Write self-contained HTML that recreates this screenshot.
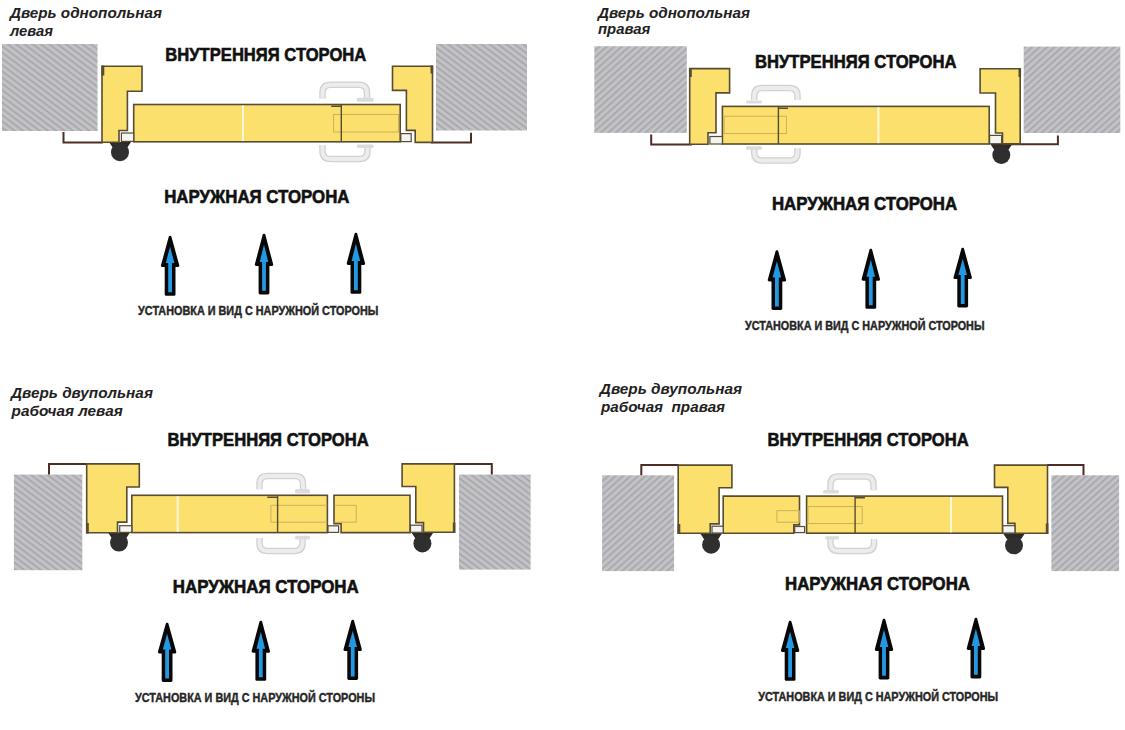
<!DOCTYPE html>
<html><head><meta charset="utf-8">
<style>
html,body{margin:0;padding:0;background:#fff;width:1125px;height:730px;overflow:hidden}
svg{display:block}
text{font-family:"Liberation Sans",sans-serif;font-weight:bold;white-space:pre}
.h{fill:#111;stroke:#111;stroke-width:0.6}
.c{fill:#262626;stroke:#262626;stroke-width:0.4}
.t{fill:#222;font-style:italic}
</style></head><body>
<svg width="1125" height="730" viewBox="0 0 1125 730">
<defs>
<pattern id="hA" width="5" height="5" patternUnits="userSpaceOnUse" patternTransform="rotate(37)">
<rect width="5" height="5" fill="#bbbbbf"/><rect y="0" width="5" height="1.1" fill="#a3a3a7"/><rect y="2.6" width="5" height="1.2" fill="#c9c9cc"/>
</pattern>
<pattern id="hB" width="5" height="5" patternUnits="userSpaceOnUse" patternTransform="rotate(-42)">
<rect width="5" height="5" fill="#bbbbbf"/><rect y="0" width="5" height="1.1" fill="#a3a3a7"/><rect y="2.6" width="5" height="1.2" fill="#c9c9cc"/>
</pattern>
</defs>
<rect x="2" y="44" width="95.50" height="87.00" fill="url(#hA)"/>
<rect x="436" y="44" width="91.00" height="86.50" fill="url(#hA)"/>
<path d="M63.5,132 V142.4 H103" fill="none" stroke="#4e2e24" stroke-width="2.0"/>
<path d="M431,142.4 H471 V132.8" fill="none" stroke="#4e2e24" stroke-width="2.0"/>
<path d="M109,142 L131,142 L127,148 L113,148 Z" fill="#2e2a26"/><circle cx="120" cy="152.2" r="9" fill="#2f2f2f"/>
<path d="M322.5,98.5 V92.8 Q322.5,84.8 330.5,84.8 H359 Q367,84.8 367,92.8 V98.5" fill="none" stroke="#d2d2d2" stroke-width="6.5"/><path d="M322.5,98.5 V92.8 Q322.5,84.8 330.5,84.8 H359 Q367,84.8 367,92.8 V98.5" fill="none" stroke="#ececec" stroke-width="3.9"/>
<rect x="356.8" y="97.8" width="16.80" height="4.00" rx="1.5" fill="#dcdcdc"/>
<path d="M322.5,145 V151 Q322.5,159 330.5,159 H359.5 Q367.5,159 367.5,151 V145" fill="none" stroke="#d2d2d2" stroke-width="6.5"/><path d="M322.5,145 V151 Q322.5,159 330.5,159 H359.5 Q367.5,159 367.5,151 V145" fill="none" stroke="#ececec" stroke-width="3.9"/>
<rect x="356.8" y="144.4" width="16.80" height="3.60" rx="1.5" fill="#dcdcdc"/>
<polygon points="102,66.2 142,66.2 142,91.2 127.4,91.2 127.4,130.5 119,130.5 119,142.2 102,142.2" fill="#fce06e" stroke="#574c31" stroke-width="1.6" stroke-linejoin="miter"/>
<rect x="133.7" y="104.5" width="266.50" height="37.30" fill="#fce06e" stroke="#574c31" stroke-width="1.6"/>
<rect x="242" y="105.4" width="2" height="35.50" fill="#fff8dc"/>
<rect x="333.6" y="114.4" width="64.80" height="17.60" fill="none" stroke="#c7ab5a" stroke-width="0.9"/>
<path d="M341.3,104.5 V141.8 M331.2,106.3 H341.3" fill="none" stroke="#574c31" stroke-width="1.4"/>
<rect x="121.4" y="133" width="12.30" height="8.40" fill="#f4f4f2" stroke="#574c31" stroke-width="1.2"/>
<polygon points="432.5,66.2 392.5,66.2 392.5,90.4 406.4,90.4 406.4,130.4 415.2,130.4 415.2,142.4 432.5,142.4" fill="#fce06e" stroke="#574c31" stroke-width="1.6" stroke-linejoin="miter"/>
<rect x="400.8" y="133.6" width="10.40" height="8.00" fill="#f4f4f2" stroke="#574c31" stroke-width="1.2"/>
<text x="165.3" y="61.2" class="h" font-size="18" textLength="201.0" lengthAdjust="spacingAndGlyphs">ВНУТРЕННЯЯ СТОРОНА</text>
<text x="164.2" y="203.1" class="h" font-size="17.5" textLength="185.3" lengthAdjust="spacingAndGlyphs">НАРУЖНАЯ СТОРОНА</text>
<path d="M170.1,237.20000000000002 L177.89999999999998,265.6 L174.1,265.6 L174.1,294.40000000000003 L166.1,294.40000000000003 L166.1,265.6 L162.3,265.6 Z" fill="#070707" stroke="#070707" stroke-width="2.8" stroke-linejoin="round"/><path d="M170.1,246.8 L174.4,263.0 L172.0,263.0 L172.0,292.2 L168.2,292.2 L168.2,263.0 L165.79999999999998,263.0 Z" fill="#2499e3"/><path d="M264,235.20000000000002 L271.8,264.6 L268.0,264.6 L268.0,293.0 L260.0,293.0 L260.0,264.6 L256.2,264.6 Z" fill="#070707" stroke="#070707" stroke-width="2.8" stroke-linejoin="round"/><path d="M264,244.8 L268.3,262.0 L265.9,262.0 L265.9,290.79999999999995 L262.1,290.79999999999995 L262.1,262.0 L259.7,262.0 Z" fill="#2499e3"/><path d="M355.9,234.20000000000002 L363.7,263.6 L359.9,263.6 L359.9,292.40000000000003 L351.9,292.40000000000003 L351.9,263.6 L348.09999999999997,263.6 Z" fill="#070707" stroke="#070707" stroke-width="2.8" stroke-linejoin="round"/><path d="M355.9,243.8 L360.2,261.0 L357.79999999999995,261.0 L357.79999999999995,290.2 L354.0,290.2 L354.0,261.0 L351.59999999999997,261.0 Z" fill="#2499e3"/>
<text x="138.1" y="315.4" class="c" font-size="12" textLength="240.3" lengthAdjust="spacingAndGlyphs">УСТАНОВКА И ВИД С НАРУЖНОЙ СТОРОНЫ</text>
<text x="9.9" y="17.6" class="t" font-size="15" textLength="152.1" lengthAdjust="spacingAndGlyphs">Дверь однопольная</text>
<text x="9.9" y="35.5" class="t" font-size="15" textLength="43.0" lengthAdjust="spacingAndGlyphs">левая</text>
<rect x="594.3" y="46.2" width="92.50" height="86.70" fill="url(#hB)"/>
<rect x="1023.7" y="46.6" width="96.60" height="86.40" fill="url(#hB)"/>
<path d="M651.2,134.4 V144.6 H692" fill="none" stroke="#4e2e24" stroke-width="2.0"/>
<path d="M1002,144.2 H1057.9 V135.4" fill="none" stroke="#4e2e24" stroke-width="2.0"/>
<path d="M990.3,144 L1012.3,144 L1008.3,150 L994.3,150 Z" fill="#2e2a26"/><circle cx="1001.3" cy="155" r="9" fill="#2f2f2f"/>
<path d="M754.2,100 V96 Q754.2,88 762.2,88 H789.5 Q797.5,88 797.5,96 V100" fill="none" stroke="#d2d2d2" stroke-width="6.5"/><path d="M754.2,100 V96 Q754.2,88 762.2,88 H789.5 Q797.5,88 797.5,96 V100" fill="none" stroke="#ececec" stroke-width="3.9"/>
<rect x="746" y="100.6" width="16.00" height="2.80" rx="1.5" fill="#dcdcdc"/>
<path d="M754.2,148 V152.5 Q754.2,160.5 762.2,160.5 H789.5 Q797.5,160.5 797.5,152.5 V148" fill="none" stroke="#d2d2d2" stroke-width="6.5"/><path d="M754.2,148 V152.5 Q754.2,160.5 762.2,160.5 H789.5 Q797.5,160.5 797.5,152.5 V148" fill="none" stroke="#ececec" stroke-width="3.9"/>
<rect x="746" y="146.2" width="16.00" height="3.60" rx="1.5" fill="#dcdcdc"/>
<polygon points="689.7,68.6 729.6,68.6 729.6,92.9 716,92.9 716,132.8 708,132.8 708,144.2 689.7,144.2" fill="#fce06e" stroke="#574c31" stroke-width="1.6" stroke-linejoin="miter"/>
<rect x="722.4" y="106.4" width="266.80" height="37.60" fill="#fce06e" stroke="#574c31" stroke-width="1.6"/>
<rect x="877.4" y="107.30000000000001" width="2" height="35.80" fill="#fff8dc"/>
<rect x="724.2" y="116.2" width="62.20" height="17.40" fill="none" stroke="#c7ab5a" stroke-width="0.9"/>
<path d="M778.4,106.4 V144 M778.4,108.2 H788" fill="none" stroke="#574c31" stroke-width="1.4"/>
<rect x="709.9" y="136.5" width="12.50" height="7.50" fill="#f4f4f2" stroke="#574c31" stroke-width="1.2"/>
<polygon points="1020.2,68.7 980.1,68.7 980.1,93 995.5,93 995.5,133 1002.5,133 1002.5,143.9 1020.2,143.9" fill="#fce06e" stroke="#574c31" stroke-width="1.6" stroke-linejoin="miter"/>
<rect x="989.6" y="135.4" width="12.00" height="8.30" fill="#f4f4f2" stroke="#574c31" stroke-width="1.2"/>
<text x="754.9" y="68.2" class="h" font-size="18" textLength="201.6" lengthAdjust="spacingAndGlyphs">ВНУТРЕННЯЯ СТОРОНА</text>
<text x="771.9" y="210" class="h" font-size="17.5" textLength="185.3" lengthAdjust="spacingAndGlyphs">НАРУЖНАЯ СТОРОНА</text>
<path d="M776.9,251.6 L784.7,280.1 L780.9,280.1 L780.9,308.6 L772.9,308.6 L772.9,280.1 L769.0999999999999,280.1 Z" fill="#070707" stroke="#070707" stroke-width="2.8" stroke-linejoin="round"/><path d="M776.9,261.2 L781.1999999999999,277.5 L778.8,277.5 L778.8,306.4 L775.0,306.4 L775.0,277.5 L772.6,277.5 Z" fill="#2499e3"/><path d="M870.8,250.20000000000002 L878.6,279.3 L874.8,279.3 L874.8,307.40000000000003 L866.8,307.40000000000003 L866.8,279.3 L862.9999999999999,279.3 Z" fill="#070707" stroke="#070707" stroke-width="2.8" stroke-linejoin="round"/><path d="M870.8,259.8 L875.0999999999999,276.7 L872.6999999999999,276.7 L872.6999999999999,305.2 L868.9,305.2 L868.9,276.7 L866.5,276.7 Z" fill="#2499e3"/><path d="M962.7,249.20000000000002 L970.5000000000001,277.70000000000005 L966.7,277.70000000000005 L966.7,306.1 L958.7,306.1 L958.7,277.70000000000005 L954.9,277.70000000000005 Z" fill="#070707" stroke="#070707" stroke-width="2.8" stroke-linejoin="round"/><path d="M962.7,258.8 L967.0,275.1 L964.6,275.1 L964.6,303.9 L960.8000000000001,303.9 L960.8000000000001,275.1 L958.4000000000001,275.1 Z" fill="#2499e3"/>
<text x="745.1" y="329.7" class="c" font-size="12" textLength="239.4" lengthAdjust="spacingAndGlyphs">УСТАНОВКА И ВИД С НАРУЖНОЙ СТОРОНЫ</text>
<text x="598" y="17.8" class="t" font-size="15" textLength="152.0" lengthAdjust="spacingAndGlyphs">Дверь однопольная</text>
<text x="598" y="34.1" class="t" font-size="15" textLength="52.4" lengthAdjust="spacingAndGlyphs">правая</text>
<rect x="13.9" y="474.6" width="68.40" height="95.60" fill="url(#hA)"/>
<rect x="459" y="474.6" width="71.60" height="95.00" fill="url(#hA)"/>
<path d="M49,474.6 V463.9 H88" fill="none" stroke="#4e2e24" stroke-width="2.0"/>
<path d="M453.5,463.9 H491.8 V474.6" fill="none" stroke="#4e2e24" stroke-width="2.0"/>
<path d="M108,532.6 L130,532.6 L126,538.6 L112,538.6 Z" fill="#2e2a26"/><circle cx="119" cy="542.6" r="9" fill="#2f2f2f"/>
<path d="M411.4,532.4 L433.4,532.4 L429.4,538.4 L415.4,538.4 Z" fill="#2e2a26"/><circle cx="422.4" cy="543.4" r="9" fill="#2f2f2f"/>
<path d="M259.5,489.3 V484 Q259.5,476 267.5,476 H295 Q303,476 303,484 V489.3" fill="none" stroke="#d2d2d2" stroke-width="6.5"/><path d="M259.5,489.3 V484 Q259.5,476 267.5,476 H295 Q303,476 303,484 V489.3" fill="none" stroke="#ececec" stroke-width="3.9"/>
<rect x="295" y="489" width="15.00" height="4.50" rx="1.5" fill="#dcdcdc"/>
<path d="M259.5,538 V543 Q259.5,551 267.5,551 H294.5 Q302.5,551 302.5,543 V538" fill="none" stroke="#d2d2d2" stroke-width="6.5"/><path d="M259.5,538 V543 Q259.5,551 267.5,551 H294.5 Q302.5,551 302.5,543 V538" fill="none" stroke="#ececec" stroke-width="3.9"/>
<rect x="295" y="535.8" width="15.00" height="3.70" rx="1.5" fill="#dcdcdc"/>
<polygon points="86.7,463.9 139.3,463.9 139.3,487 126.8,487 126.8,522.1 117.5,522.1 117.5,532.8 86.7,532.8" fill="#fce06e" stroke="#574c31" stroke-width="1.6" stroke-linejoin="miter"/>
<rect x="131.8" y="495.3" width="195.60" height="37.30" fill="#fce06e" stroke="#574c31" stroke-width="1.6"/>
<rect x="176.7" y="496.2" width="2" height="35.50" fill="#fff8dc"/>
<polygon points="334,495.3 410,495.3 410,532.6 341.1,532.6 341.1,523.6 334,523.6" fill="#fce06e" stroke="#574c31" stroke-width="1.6" stroke-linejoin="miter"/>
<path d="M327.2,505.3 H270.9 V522.2 H327.2 M334.5,505.3 H356.2 V522.2 H334.5" fill="none" stroke="#c7ab5a" stroke-width="0.9"/>
<path d="M277.6,495.3 V532.6 M267.3,497.2 H277.6" fill="none" stroke="#574c31" stroke-width="1.4"/>
<rect x="328" y="525.8" width="10.60" height="6.60" fill="#f4f4f2" stroke="#574c31" stroke-width="1.2"/>
<rect x="119.7" y="525.7" width="12.10" height="6.70" fill="#f4f4f2" stroke="#574c31" stroke-width="1.2"/>
<polygon points="454.4,463.9 402.1,463.9 402.1,486.5 415.8,486.5 415.8,522.6 423.5,522.6 423.5,532.3 454.4,532.3" fill="#fce06e" stroke="#574c31" stroke-width="1.6" stroke-linejoin="miter"/>
<rect x="410.5" y="525.2" width="11.50" height="7.10" fill="#f4f4f2" stroke="#574c31" stroke-width="1.2"/>
<text x="167.5" y="446" class="h" font-size="18" textLength="201.2" lengthAdjust="spacingAndGlyphs">ВНУТРЕННЯЯ СТОРОНА</text>
<text x="172.8" y="592.6" class="h" font-size="17.5" textLength="186.0" lengthAdjust="spacingAndGlyphs">НАРУЖНАЯ СТОРОНА</text>
<path d="M167.1,624.1999999999999 L174.89999999999998,652.1 L171.1,652.1 L171.1,680.6 L163.1,680.6 L163.1,652.1 L159.3,652.1 Z" fill="#070707" stroke="#070707" stroke-width="2.8" stroke-linejoin="round"/><path d="M167.1,633.8 L171.4,649.5 L169.0,649.5 L169.0,678.4 L165.2,678.4 L165.2,649.5 L162.79999999999998,649.5 Z" fill="#2499e3"/><path d="M260.8,622.1999999999999 L268.6,651.3000000000001 L264.8,651.3000000000001 L264.8,679.4 L256.8,679.4 L256.8,651.3000000000001 L253.00000000000003,651.3000000000001 Z" fill="#070707" stroke="#070707" stroke-width="2.8" stroke-linejoin="round"/><path d="M260.8,631.8 L265.1,648.7 L262.7,648.7 L262.7,677.1999999999999 L258.90000000000003,677.1999999999999 L258.90000000000003,648.7 L256.5,648.7 Z" fill="#2499e3"/><path d="M352.7,621.1999999999999 L360.5,649.7 L356.7,649.7 L356.7,678.6 L348.7,678.6 L348.7,649.7 L344.9,649.7 Z" fill="#070707" stroke="#070707" stroke-width="2.8" stroke-linejoin="round"/><path d="M352.7,630.8 L357.0,647.1 L354.59999999999997,647.1 L354.59999999999997,676.4 L350.8,676.4 L350.8,647.1 L348.4,647.1 Z" fill="#2499e3"/>
<text x="135.1" y="702.3" class="c" font-size="12" textLength="239.9" lengthAdjust="spacingAndGlyphs">УСТАНОВКА И ВИД С НАРУЖНОЙ СТОРОНЫ</text>
<text x="11" y="398.1" class="t" font-size="15" textLength="141.9" lengthAdjust="spacingAndGlyphs">Дверь двупольная</text>
<text x="11.6" y="416.2" class="t" font-size="15" textLength="111.1" lengthAdjust="spacingAndGlyphs">рабочая левая</text>
<rect x="602.1" y="475.3" width="72.00" height="95.80" fill="url(#hB)"/>
<rect x="1051.4" y="475.3" width="67.70" height="95.80" fill="url(#hB)"/>
<path d="M641.3,475.3 V465.1 H679" fill="none" stroke="#4e2e24" stroke-width="2.0"/>
<path d="M1047,465.1 H1083.5 V475.3" fill="none" stroke="#4e2e24" stroke-width="2.0"/>
<path d="M700.1,533.2 L722.1,533.2 L718.1,539.2 L704.1,539.2 Z" fill="#2e2a26"/><circle cx="711.1" cy="544.7" r="9" fill="#2f2f2f"/>
<path d="M1003,533.2 L1025,533.2 L1021,539.2 L1007,539.2 Z" fill="#2e2a26"/><circle cx="1014" cy="545.3" r="9" fill="#2f2f2f"/>
<path d="M830.5,490.2 V484.5 Q830.5,476.5 838.5,476.5 H865.5 Q873.5,476.5 873.5,484.5 V490.2" fill="none" stroke="#d2d2d2" stroke-width="6.5"/><path d="M830.5,490.2 V484.5 Q830.5,476.5 838.5,476.5 H865.5 Q873.5,476.5 873.5,484.5 V490.2" fill="none" stroke="#ececec" stroke-width="3.9"/>
<rect x="823" y="490" width="16.00" height="3.50" rx="1.5" fill="#dcdcdc"/>
<path d="M830.5,539 V543 Q830.5,551 838.5,551 H866 Q874,551 874,543 V539" fill="none" stroke="#d2d2d2" stroke-width="6.5"/><path d="M830.5,539 V543 Q830.5,551 838.5,551 H866 Q874,551 874,543 V539" fill="none" stroke="#ececec" stroke-width="3.9"/>
<rect x="825" y="536.2" width="14.00" height="3.40" rx="1.5" fill="#dcdcdc"/>
<polygon points="678.2,465.1 731.9,465.1 731.9,487.8 719.1,487.8 719.1,523.9 710.2,523.9 710.2,533.3 678.2,533.3" fill="#fce06e" stroke="#574c31" stroke-width="1.6" stroke-linejoin="miter"/>
<polygon points="723.2,496.1 799.5,496.1 799.5,524.9 793.8,524.9 793.8,533.2 723.2,533.2" fill="#fce06e" stroke="#574c31" stroke-width="1.6" stroke-linejoin="miter"/>
<rect x="806.6" y="496.1" width="195.90" height="37.10" fill="#fce06e" stroke="#574c31" stroke-width="1.6"/>
<rect x="950" y="497.0" width="2" height="35.30" fill="#fff8dc"/>
<rect x="776.9" y="510.7" width="22.60" height="11.50" fill="none" stroke="#c7ab5a" stroke-width="0.9"/>
<rect x="808" y="506.6" width="54.20" height="17.00" fill="none" stroke="#c7ab5a" stroke-width="0.9"/>
<path d="M855.1,496.1 V533.2 M855.1,497.8 H864.9" fill="none" stroke="#574c31" stroke-width="1.4"/>
<rect x="712" y="526.2" width="11.20" height="6.80" fill="#f4f4f2" stroke="#574c31" stroke-width="1.2"/>
<rect x="794.7" y="526.5" width="9.90" height="6.10" fill="#f4f4f2" stroke="#574c31" stroke-width="1.2"/>
<polygon points="1047.5,465.1 994.5,465.1 994.5,487.4 1007.8,487.4 1007.8,523.4 1014.9,523.4 1014.9,533.3 1047.5,533.3" fill="#fce06e" stroke="#574c31" stroke-width="1.6" stroke-linejoin="miter"/>
<rect x="1002.8" y="525.7" width="12.10" height="7.30" fill="#f4f4f2" stroke="#574c31" stroke-width="1.2"/>
<text x="767.5" y="446" class="h" font-size="18" textLength="201.2" lengthAdjust="spacingAndGlyphs">ВНУТРЕННЯЯ СТОРОНА</text>
<text x="785" y="590.4" class="h" font-size="17.5" textLength="185.0" lengthAdjust="spacingAndGlyphs">НАРУЖНАЯ СТОРОНА</text>
<path d="M790.1,622.1999999999999 L797.9000000000001,650.6 L794.1,650.6 L794.1,679.4 L786.1,679.4 L786.1,650.6 L782.3,650.6 Z" fill="#070707" stroke="#070707" stroke-width="2.8" stroke-linejoin="round"/><path d="M790.1,631.8 L794.4,648.0 L792.0,648.0 L792.0,677.1999999999999 L788.2,677.1999999999999 L788.2,648.0 L785.8000000000001,648.0 Z" fill="#2499e3"/><path d="M884,620.1999999999999 L891.8000000000001,649.6 L888.0,649.6 L888.0,678.0 L880.0,678.0 L880.0,649.6 L876.1999999999999,649.6 Z" fill="#070707" stroke="#070707" stroke-width="2.8" stroke-linejoin="round"/><path d="M884,629.8 L888.3,647.0 L885.9,647.0 L885.9,675.8 L882.1,675.8 L882.1,647.0 L879.7,647.0 Z" fill="#2499e3"/><path d="M975.9,619.1999999999999 L983.7,648.6 L979.9,648.6 L979.9,677.0 L971.9,677.0 L971.9,648.6 L968.0999999999999,648.6 Z" fill="#070707" stroke="#070707" stroke-width="2.8" stroke-linejoin="round"/><path d="M975.9,628.8 L980.1999999999999,646.0 L977.8,646.0 L977.8,674.8 L974.0,674.8 L974.0,646.0 L971.6,646.0 Z" fill="#2499e3"/>
<text x="758.3" y="700.6" class="c" font-size="12" textLength="239.9" lengthAdjust="spacingAndGlyphs">УСТАНОВКА И ВИД С НАРУЖНОЙ СТОРОНЫ</text>
<text x="599.8" y="393.7" class="t" font-size="15" textLength="142.2" lengthAdjust="spacingAndGlyphs">Дверь двупольная</text>
<text x="601" y="412.3" class="t" font-size="15" textLength="124.1" lengthAdjust="spacingAndGlyphs">рабочая  правая</text>
<rect x="101.5" y="65.5" width="2.8" height="10" fill="#574c31"/>
<rect x="430.5" y="65.5" width="2.6" height="8" fill="#574c31"/>
<rect x="689" y="68" width="2.8" height="9" fill="#574c31"/>
<rect x="1018.5" y="68" width="2.6" height="9" fill="#574c31"/>
<rect x="86" y="523" width="2.8" height="10.5" fill="#574c31"/>
<rect x="452.8" y="522.5" width="2.6" height="10.5" fill="#574c31"/>
<rect x="677.5" y="524" width="2.8" height="10" fill="#574c31"/>
<rect x="1045.8" y="523.5" width="2.6" height="10.5" fill="#574c31"/>
</svg>
</body></html>
